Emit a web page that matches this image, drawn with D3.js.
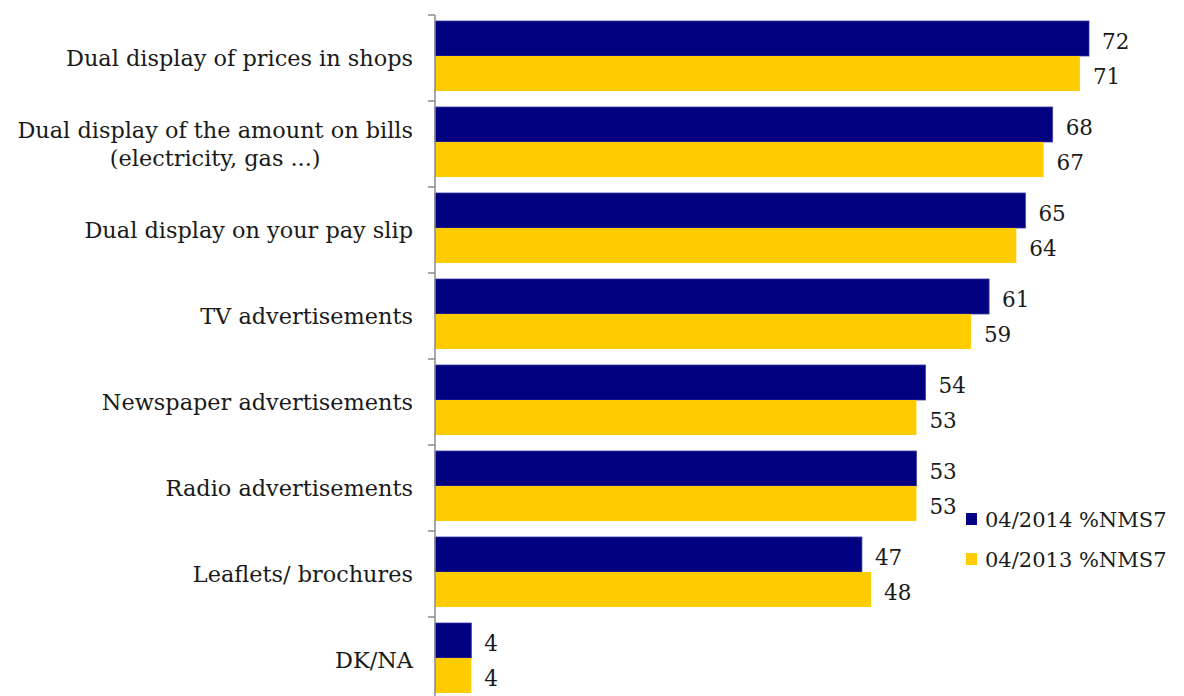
<!DOCTYPE html>
<html><head><meta charset="utf-8">
<script src="https://cdn.jsdelivr.net/npm/d3@7"></script>
<style>body{margin:0;background:#fff;}svg{display:block;}</style>
</head><body>
<svg id="c" width="1184" height="696"></svg>
<script>
const categories = [
  ["Dual display of prices in shops"],
  ["Dual display of the amount on bills", "(electricity, gas ...)"],
  ["Dual display on your pay slip"],
  ["TV advertisements"],
  ["Newspaper advertisements"],
  ["Radio advertisements"],
  ["Leaflets/ brochures"],
  ["DK/NA"]
];
const series2014 = [72, 68, 65, 61, 54, 53, 47, 4];
const series2013 = [71, 67, 64, 59, 53, 53, 48, 4];
const seriesNames = ["04/2014 %NMS7", "04/2013 %NMS7"];
const colors = ["#000080", "#FFCC00"];

const svg = d3.select("#c");
const font = "'DejaVu Serif', Georgia, serif";
const x0 = 435, plotTop = 15, band = 86;
const x = d3.scaleLinear().domain([0, 72]).range([x0, 1089]);
const idx = categories.map((d, i) => i);
const y = d3.scaleBand().domain(idx).range([plotTop, plotTop + band * categories.length]).paddingInner(0).paddingOuter(0);
const sub = d3.scaleBand().domain([0, 1]).range([6, band - 10]);

const g = svg.append("g");
const data = idx.map(i => [series2014[i], series2013[i]]);
const groups = g.selectAll("g.cat").data(data).join("g").attr("transform", (d, i) => `translate(0,${y(i)})`);
groups.selectAll("rect").data(d => d).join("rect")
  .attr("x", x(0)).attr("y", (d, j) => sub(j)).attr("width", d => x(d) - x(0)).attr("height", sub.bandwidth())
  .attr("fill", (d, j) => colors[j]).attr("stroke", (d, j) => j === 0 ? "#3a3aa0" : "none").attr("stroke-width", 0.8);
groups.selectAll("text.v").data(d => d).join("text").attr("class", "v")
  .attr("x", d => x(d) + 13).attr("y", (d, j) => sub(j) + sub.bandwidth() / 2 + 3)
  .attr("dy", "0.35em").attr("font-family", font).attr("font-size", 21.5).attr("fill", "#1a1a1a").text(d => d);

// axis
const yAxis = d3.axisLeft(y).tickSize(0).tickFormat("");
const ax = svg.append("g").attr("transform", `translate(${x0},0)`).call(yAxis);
ax.select(".domain").attr("stroke", "#8a8a8a").attr("stroke-width", 1.5).attr("d", `M0,${plotTop}V${plotTop + band * categories.length}`);
ax.selectAll(".tick").remove();
const bounds = d3.range(categories.length + 1).map(i => plotTop + i * band);
ax.selectAll("line.b").data(bounds).join("line").attr("class", "b")
  .attr("x1", -7).attr("x2", 0).attr("y1", d => d).attr("y2", d => d)
  .attr("stroke", "#8a8a8a").attr("stroke-width", 1.5);

// category labels
const lab = svg.append("g");
categories.forEach((lines, i) => {
  const cy = y(i) + band / 2;
  const lh = 28;
  lines.forEach((t, k) => {
    lab.append("text").attr("x", 413).attr("y", cy + (k - (lines.length - 1) / 2) * lh)
      .attr("dy", "0.35em").attr("text-anchor", lines.length > 1 && k > 0 ? "middle" : "end")
      .attr("font-family", font).attr("font-size", 22.4).attr("fill", "#1a1a1a").text(t);
  });
});
lab.selectAll("text").each(function() {
  const el = d3.select(this);
  if (el.attr("text-anchor") === "middle") {
    const prev = this.previousSibling;
    const bb = prev.getBBox();
    el.attr("x", bb.x + bb.width / 2);
  }
});

// legend
const leg = svg.append("g").attr("transform", "translate(966,519)");
seriesNames.forEach((s, i) => {
  leg.append("rect").attr("x", 0).attr("y", i * 40 - 6).attr("width", 11).attr("height", 12).attr("fill", colors[i]);
  leg.append("text").attr("x", 19).attr("y", i * 40 + 1).attr("dy", "0.35em")
    .attr("font-family", font).attr("font-size", 21).attr("fill", "#1a1a1a").text(s);
});
</script>
</body></html>
